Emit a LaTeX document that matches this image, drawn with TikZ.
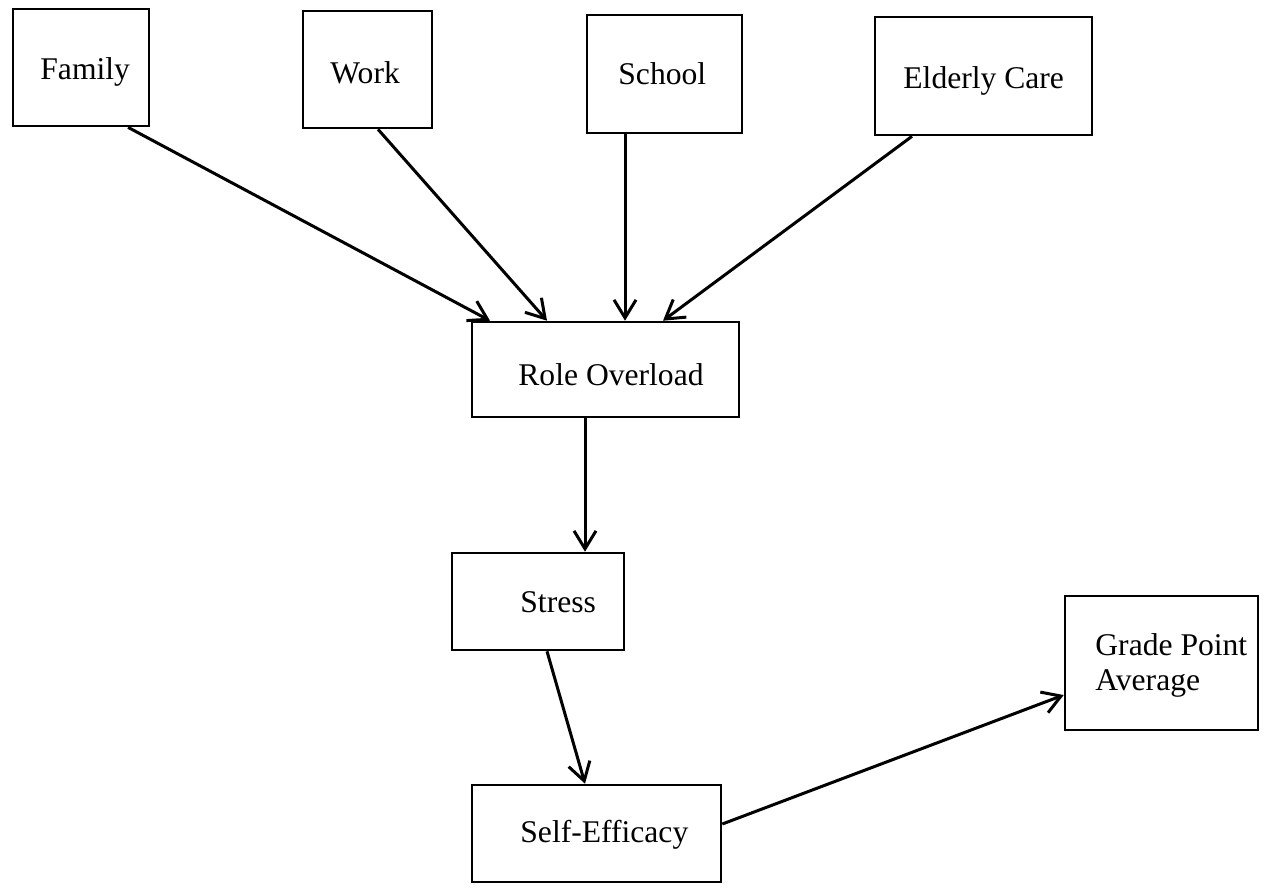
\documentclass[tikz,border=0pt]{standalone}
\usepackage{fontspec}
\setmainfont{Liberation Serif}
\usetikzlibrary{arrows.meta,fit}
\begin{document}
\begin{tikzpicture}[x=0.5pt,y=-0.5pt,
  box/.style={draw, line width=1.3pt, inner sep=0pt, rectangle},
  lbl/.style={inner sep=0pt, anchor=base west, font=\fontsize{15.8}{17.5}\selectfont},
  arr/.style={line width=1.5pt, -{Straight Barb[length=9pt,width=11pt,line width=1.5pt]}}]
\useasboundingbox[fill=white] (0,0) rectangle (1272,891);

% boxes
\node[box, fit={(13,9) (149,126)}]    (family) {};
\node[box, fit={(303,11) (432,128)}]  (work) {};
\node[box, fit={(587,15) (742,133)}]  (school) {};
\node[box, fit={(875,17) (1092,135)}] (elderly) {};
\node[box, fit={(472,322) (739,417)}] (role) {};
\node[box, fit={(452,553) (624,650)}] (stress) {};
\node[box, fit={(472,785) (721,882)}] (selfeff) {};
\node[box, fit={(1065,596) (1258,730)}] (gpa) {};

% labels (baseline positions; a two-line node sits on its last baseline)
\node[lbl] (tfamily)  at (40,79)   {Family};
\node[lbl] (twork)    at (330,83)  {Work};
\node[lbl] (tschool)  at (618,84)  {School};
\node[lbl] (telderly) at (903,88)  {Elderly Care};
\node[lbl] (trole)    at (518,385) {Role Overload};
\node[lbl] (tstress)  at (520,612) {Stress};
\node[lbl] (tself)    at (520,842) {Self-Efficacy};
\node[lbl, align=left] (tgpa) at (1095,690) {Grade Point\\Average};

% connectors
\draw[arr] (family.south -| 128,0)  -- (role.north -| 490,0);
\draw[arr] (work.south -| 378,0)    -- (role.north -| 547,0);
\draw[arr] (school.south -| 625,0)  -- (role.north -| 625,0);
\draw[arr] (elderly.south -| 912,0) -- (role.north -| 663,0);
\draw[arr] (role.south -| 585,0)    -- (stress.north -| 585,0);
\draw[arr] (stress.south -| 547,0)  -- (selfeff.north -| 585,0);
\draw[arr] (selfeff.east |- 0,824)  -- (gpa.west |- 0,695);
\end{tikzpicture}
\end{document}
